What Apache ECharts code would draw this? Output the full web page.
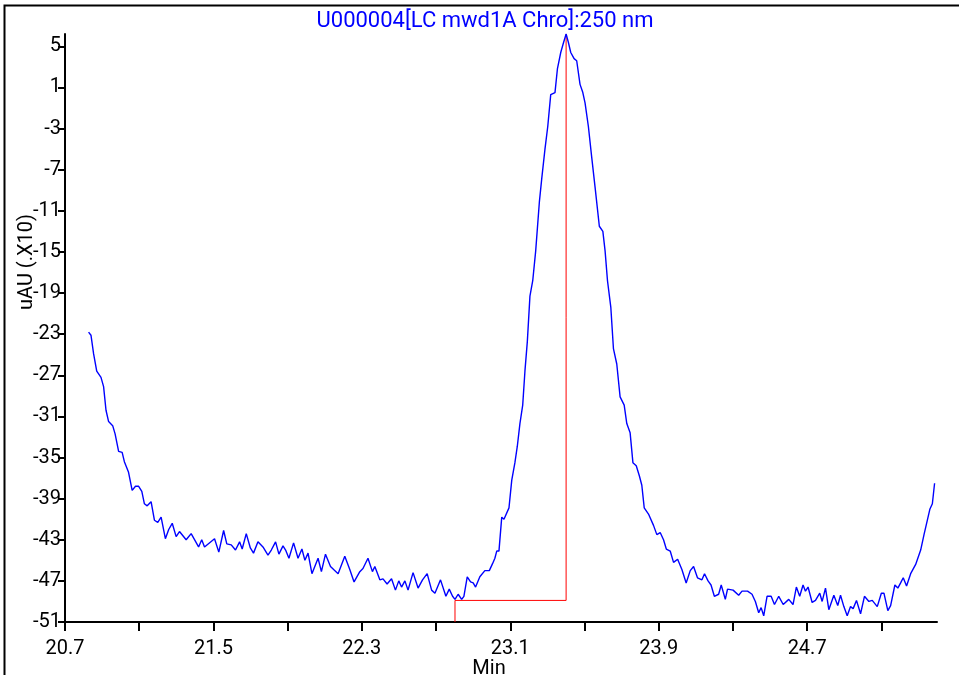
<!DOCTYPE html>
<html>
<head>
<meta charset="utf-8">
<title>U000004 chromatogram</title>
<script src="https://cdn.jsdelivr.net/npm/echarts@6/dist/echarts.min.js"></script>
<style>
  html, body { margin: 0; padding: 0; background: #ffffff; }
  #chart { width: 959px; height: 675px; }
</style>
</head>
<body>
<div id="chart"></div>
<script>
// Retention time (min) of each detector sample
const times = [
  20.827, 20.840, 20.854, 20.871, 20.881, 20.894, 20.908, 20.921, 20.935, 20.957,
  20.970, 20.989, 21.008, 21.020, 21.042, 21.062, 21.080, 21.097, 21.114, 21.128,
  21.143, 21.164, 21.182, 21.200, 21.218, 21.241, 21.259, 21.278, 21.299, 21.317,
  21.353, 21.380, 21.420, 21.437, 21.452, 21.506, 21.529, 21.555, 21.572, 21.596,
  21.619, 21.641, 21.655, 21.677, 21.699, 21.716, 21.740, 21.767, 21.794, 21.812,
  21.835, 21.853, 21.875, 21.889, 21.907, 21.932, 21.956, 21.977, 21.993, 22.010,
  22.031, 22.064, 22.082, 22.104, 22.131, 22.148, 22.172, 22.208, 22.235, 22.258,
  22.289, 22.306, 22.333, 22.357, 22.370, 22.397, 22.414, 22.436, 22.460, 22.481,
  22.499, 22.514, 22.532, 22.549, 22.576, 22.603, 22.627, 22.652, 22.676, 22.694,
  22.724, 22.753, 22.771, 22.789, 22.802, 22.819, 22.838, 22.850, 22.868, 22.886,
  22.900, 22.913, 22.936, 22.963, 22.987, 23.005, 23.017, 23.027, 23.039, 23.054,
  23.066, 23.093, 23.108, 23.125, 23.138, 23.152, 23.167, 23.179, 23.192, 23.206,
  23.221, 23.237, 23.257, 23.270, 23.287, 23.302, 23.318, 23.341, 23.354, 23.372,
  23.386, 23.401, 23.413, 23.426, 23.444, 23.458, 23.476, 23.491, 23.503, 23.521,
  23.539, 23.557, 23.580, 23.599, 23.611, 23.624, 23.642, 23.656, 23.674, 23.692,
  23.714, 23.728, 23.746, 23.761, 23.779, 23.796, 23.809, 23.822, 23.845, 23.872,
  23.890, 23.908, 23.926, 23.941, 23.962, 23.980, 24.002, 24.025, 24.048, 24.070,
  24.088, 24.109, 24.133, 24.147, 24.166, 24.182, 24.200, 24.223, 24.237, 24.259,
  24.271, 24.301, 24.331, 24.349, 24.379, 24.403, 24.421, 24.439, 24.452, 24.466,
  24.484, 24.506, 24.524, 24.547, 24.571, 24.601, 24.624, 24.642, 24.660, 24.678,
  24.691, 24.705, 24.727, 24.745, 24.768, 24.781, 24.799, 24.817, 24.844, 24.865,
  24.880, 24.898, 24.916, 24.934, 24.948, 24.966, 24.988, 25.009, 25.033, 25.051,
  25.078, 25.100, 25.114, 25.135, 25.150, 25.173, 25.189, 25.204, 25.218, 25.236,
  25.258, 25.285, 25.312, 25.330, 25.344, 25.362, 25.375, 25.387
];

// Detector response, uAU (x10)
const signal = [
  -22.8, -23.1, -24.9, -26.6, -26.6, -27.2, -28.1, -30.4, -31.5, -31.9,
  -32.7, -34.4, -34.5, -35.4, -36.4, -38.2, -37.8, -37.8, -38.3, -39.5,
  -39.7, -39.3, -41.1, -41.3, -40.8, -42.9, -42.0, -41.4, -42.7, -42.2,
  -43.0, -42.4, -43.7, -43.0, -43.7, -42.9, -44.2, -42.1, -43.4, -43.5,
  -44.0, -43.2, -43.9, -42.4, -43.8, -44.3, -43.2, -43.7, -44.5, -44.0,
  -43.2, -44.4, -43.6, -44.0, -44.8, -43.3, -44.8, -43.9, -45.0, -44.3,
  -46.3, -44.8, -46.1, -44.4, -45.6, -45.9, -46.3, -44.6, -45.9, -47.1,
  -46.1, -45.8, -44.8, -46.1, -45.6, -46.9, -46.8, -47.3, -46.8, -47.9,
  -47.0, -47.6, -47.0, -47.9, -46.2, -47.7, -46.9, -46.3, -47.9, -48.2,
  -46.9, -48.5, -47.8, -48.5, -48.8, -48.3, -48.8, -48.5, -46.6, -47.1,
  -47.2, -47.6, -46.6, -46.0, -46.0, -45.3, -44.8, -44.1, -44.1, -40.8,
  -41.0, -39.9, -37.2, -35.5, -33.9, -31.7, -29.9, -26.6, -23.7, -19.3,
  -17.8, -14.9, -10.1, -7.8, -5.0, -2.8, 0.3, 0.5, 2.8, 4.4,
  5.3, 6.2, 5.4, 4.4, 3.8, 3.6, 1.3, 0.5, -0.5, -2.8,
  -5.8, -8.7, -12.5, -13.0, -14.9, -17.8, -20.4, -24.4, -25.9, -29.1,
  -29.9, -31.7, -32.6, -35.5, -35.8, -36.8, -37.7, -39.9, -40.5, -41.6,
  -42.5, -42.3, -43.0, -43.9, -44.1, -45.2, -44.9, -45.9, -47.2, -46.0,
  -45.6, -46.7, -46.9, -46.3, -47.0, -47.4, -48.5, -48.3, -47.4, -48.8,
  -47.8, -47.9, -48.4, -48.0, -48.0, -48.3, -49.0, -50.1, -49.6, -50.4,
  -48.5, -48.5, -49.3, -48.5, -49.3, -48.8, -49.3, -47.6, -48.5, -47.4,
  -48.0, -47.6, -49.1, -48.9, -48.2, -49.0, -47.7, -49.8, -48.4, -49.4,
  -48.4, -49.5, -50.4, -49.5, -49.7, -48.9, -50.2, -48.5, -49.0, -48.9,
  -49.5, -48.2, -48.2, -49.9, -49.4, -47.4, -47.7, -47.2, -46.7, -47.5,
  -46.3, -45.4, -44.0, -42.5, -41.4, -40.0, -39.5, -37.5
];

// Peak integration: drop line at peak start, baseline, and apex marker
const integrationTimes = [22.802, 22.802, 23.401, 23.401];
const integrationValues = [-51.0, -48.9, -48.9, 6.2];

// Axis ticks and labels
const xTicks = [20.7, 21.1, 21.5, 21.9, 22.3, 22.7, 23.1, 23.5, 23.9, 24.3, 24.7, 25.1];
const xLabels = [20.7, 21.5, 22.3, 23.1, 23.9, 24.7];
const yTicks = [-51, -47, -43, -39, -35, -31, -27, -23, -19, -15, -11, -7, -3, 1, 5];

const titleText = 'U000004[LC mwd1A Chro]:250 nm';
const xName = 'Min';
const yName = 'uAU (.X10)';

const FONT = 'Roboto, "Liberation Sans", Arial, sans-serif';

const tracePoints = times.map((t, i) => [t, signal[i]]);
const integrationPoints = integrationTimes.map((t, i) => [t, integrationValues[i]]);

const chart = echarts.init(document.getElementById('chart'), null, { renderer: 'canvas' });

chart.setOption({
  animation: false,
  backgroundColor: '#ffffff',
  grid: { left: 65, right: 22, top: 34, bottom: 53, containLabel: false },
  xAxis: {
    type: 'value',
    min: 20.7,
    max: 25.4,
    splitLine: { show: false },
    axisLine: { show: true, onZero: false, lineStyle: { color: '#000', width: 2 } },
    axisTick: { show: true, length: 9, lineStyle: { color: '#000', width: 2 }, customValues: xTicks },
    axisLabel: {
      color: '#000', fontFamily: FONT, fontSize: 20, margin: 17,
      customValues: xLabels,
      formatter: v => v.toFixed(1)
    }
  },
  yAxis: {
    type: 'value',
    min: -51,
    max: 6.2,
    splitLine: { show: false },
    axisLine: { show: true, onZero: false, lineStyle: { color: '#000', width: 2 } },
    axisTick: { show: true, length: 7, lineStyle: { color: '#000', width: 2 }, customValues: yTicks },
    axisLabel: {
      color: '#000', fontFamily: FONT, fontSize: 20, margin: 4,
      padding: [5, 0, 0, 0],
      customValues: yTicks,
      formatter: v => String(Math.round(v))
    }
  },
  series: [
    {
      type: 'line',
      data: tracePoints,
      showSymbol: false,
      symbol: 'none',
      lineStyle: { color: '#0000ff', width: 1.4 },
      z: 3
    },
    {
      type: 'line',
      data: integrationPoints,
      showSymbol: false,
      symbol: 'none',
      lineStyle: { color: '#ff0000', width: 1 },
      z: 2
    }
  ],
  graphic: [
    {
      type: 'rect',
      shape: { x: 4.5, y: 5.5, width: 1000, height: 1000 },
      style: { fill: 'none', stroke: '#000', lineWidth: 2 },
      silent: true
    },
    {
      type: 'text',
      x: 485, y: 21,
      style: {
        text: titleText, fill: '#0000ff', font: '22px ' + FONT,
        textAlign: 'center', textVerticalAlign: 'middle'
      }
    },
    {
      type: 'text',
      x: 489, y: 659,
      style: {
        text: xName, fill: '#000', font: '20px ' + FONT,
        textAlign: 'center', textVerticalAlign: 'top'
      }
    },
    {
      type: 'text',
      x: 27, y: 262,
      rotation: Math.PI / 2,
      style: {
        text: yName, fill: '#000', font: '20px ' + FONT,
        textAlign: 'center', textVerticalAlign: 'middle'
      }
    }
  ]
});
</script>
</body>
</html>
